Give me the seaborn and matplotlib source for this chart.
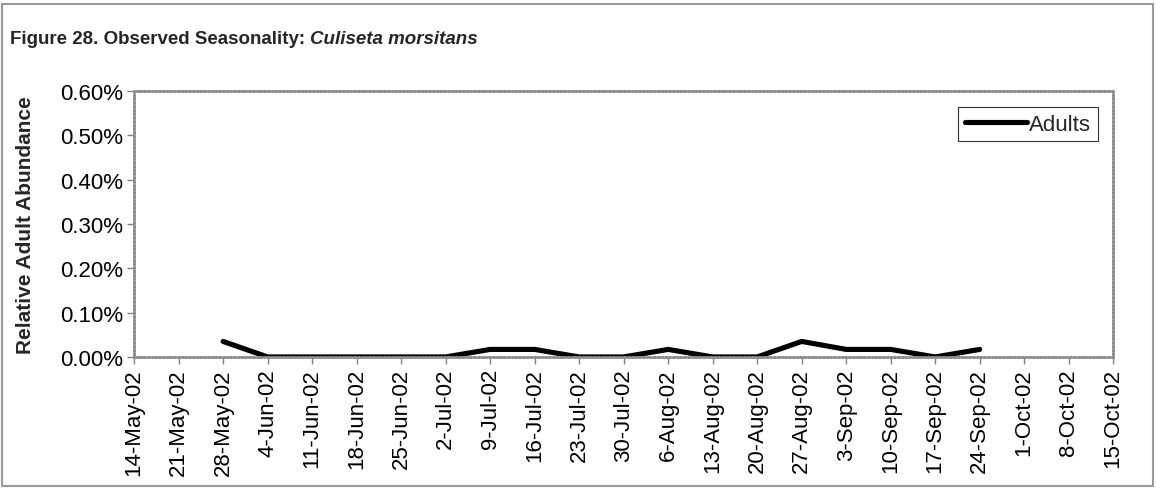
import matplotlib
matplotlib.use("Agg")
import matplotlib.pyplot as plt
import seaborn as sns
import pandas as pd
import numpy as np
from matplotlib.ticker import PercentFormatter
from matplotlib.patches import Rectangle

dates = ["14-May-02", "21-May-02", "28-May-02", "4-Jun-02", "11-Jun-02", "18-Jun-02",
         "25-Jun-02", "2-Jul-02", "9-Jul-02", "16-Jul-02", "23-Jul-02", "30-Jul-02",
         "6-Aug-02", "13-Aug-02", "20-Aug-02", "27-Aug-02", "3-Sep-02", "10-Sep-02",
         "17-Sep-02", "24-Sep-02", "1-Oct-02", "8-Oct-02", "15-Oct-02"]
adults = [np.nan, np.nan, 0.00035, 0.0, 0.0, 0.0,
          0.0, 0.0, 0.00017, 0.00017, 0.0, 0.0,
          0.00017, 0.0, 0.0, 0.00035, 0.00017, 0.00017,
          0.0, 0.00017, np.nan, np.nan, np.nan]

sns.set_theme(style="white")
plt.rcParams['font.family'] = ['Liberation Sans', 'DejaVu Sans']

df = pd.DataFrame({"pos": np.arange(len(dates)), "date": dates, "Adults": adults}).dropna()

fig = plt.figure(figsize=(11.56, 4.89), dpi=100)
ax = fig.add_axes([0.116, 0.268, 0.847, 0.544])

sns.lineplot(data=df, x="pos", y="Adults", ax=ax, color="black", linewidth=3.7,
             label="Adults", solid_capstyle="round")

ax.set_xlim(0, len(dates) - 1)
ax.set_ylim(0, 0.006)
ax.set_yticks(np.arange(0, 0.0061, 0.001))
ax.yaxis.set_major_formatter(PercentFormatter(1, decimals=2))
ax.set_xticks(np.arange(len(dates)))
ax.set_xticklabels(dates, rotation=90)
ax.tick_params(axis="both", which="major", labelsize=16, length=5, width=1,
               color="#808080", direction="out", bottom=True, left=True, pad=3, labelcolor="black")
ax.set_xlabel("")
ax.set_ylabel("Relative Adult Abundance", fontsize=15, fontweight="bold")
ax.yaxis.set_label_coords(-0.101, 0.5)
for s in ax.spines.values():
    s.set_color("#8c8c8c")
    s.set_linewidth(1.8)
    s.set_linestyle((0, (1, 0.5)))

leg = ax.legend(loc="upper right", bbox_to_anchor=(0.9845, 0.94), fontsize=16,
                frameon=True, fancybox=False, handlelength=2.8, handletextpad=0.1,
                borderpad=0.3, borderaxespad=0)
leg.get_frame().set_edgecolor("black")
leg.get_frame().set_linewidth(0.8)

fig.text(10 / 1156, 1 - 40 / 489, "Figure 28. Observed Seasonality: ", fontsize=13.5,
         fontweight="bold", va="center", ha="left")
t1 = fig.texts[0]
fig.canvas.draw()
bb = t1.get_window_extent()
fig.text(bb.x1 / 1156, 1 - 40 / 489, "Culiseta morsitans", fontsize=13.5,
         fontweight="bold", style="italic", va="center", ha="left")

fig.patches.append(Rectangle((2 / 1156, 2 / 489), 1151 / 1156, 482 / 489,
                             transform=fig.transFigure, fill=False,
                             edgecolor="#9a9a9a", linewidth=1.5))

fig.savefig("out.png", dpi=100)
